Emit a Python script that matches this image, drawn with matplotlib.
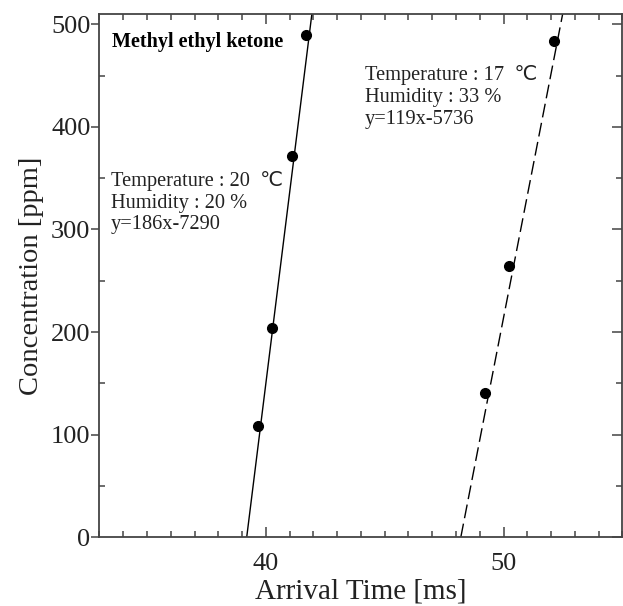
import matplotlib
matplotlib.use("Agg")
import matplotlib.pyplot as plt
from matplotlib.ticker import MultipleLocator

plt.rcParams['font.family'] = ['Liberation Serif', 'DejaVu Sans']

time_20 = [39.65, 40.24, 41.12, 41.68]
conc_20 = [108.7, 203.6, 371.7, 489.7]
time_17 = [49.24, 50.24, 52.12]
conc_17 = [140.9, 264.6, 483.8]

# fitted lines as printed on the chart: y = a*x + b
fit_20 = (186, -7290)
fit_17 = (119, -5736)

label_20 = "Temperature : 20  \u2103\nHumidity : 20 %\ny=186x-7290"
label_17 = "Temperature : 17  \u2103\nHumidity : 33 %\ny=119x-5736"

fig = plt.figure(figsize=(6.23, 6.06), dpi=100)
ax = fig.add_axes([0.1597, 0.1134, 0.8393, 0.8635])

# draw each fit line from y=0 up past the top (clipped by the axes)
for (a, b), ls in [(fit_20, '-'), (fit_17, (0, (10, 4)))]:
    ys = [0, 520]
    xs = [(y - b) / a for y in ys]
    ax.plot(xs, ys, color='black', lw=1.0, ls=ls)

ax.plot(time_20, conc_20, 'o', color='black', ms=7)
ax.plot(time_17, conc_17, 'o', color='black', ms=7)

ax.set_xlim(33, 55)
ax.set_ylim(0, 510)
ax.xaxis.set_major_locator(MultipleLocator(10))
ax.xaxis.set_minor_locator(MultipleLocator(1))
ax.yaxis.set_major_locator(MultipleLocator(100))
ax.yaxis.set_minor_locator(MultipleLocator(50))

for s in ax.spines.values():
    s.set_linewidth(1.3)
    s.set_color('#444444')

ax.tick_params(axis='x', which='both', direction='in', top=True, bottom=True,
               color='#444444', width=1.1)
ax.tick_params(axis='x', which='major', length=7, labelsize=19, pad=11,
               labelcolor='#222222')
ax.tick_params(axis='x', which='minor', length=4)
ax.tick_params(axis='y', which='major', direction='out', length=6,
               color='#444444', width=1.1, labelsize=19, pad=0.5,
               labelcolor='#222222')
ax.tick_params(axis='y', which='minor', direction='in', length=4,
               color='#444444', width=1.1)

# right side ticks all point inward
ry = ax.secondary_yaxis('right')
ry.yaxis.set_major_locator(MultipleLocator(100))
ry.yaxis.set_minor_locator(MultipleLocator(50))
ry.tick_params(which='both', direction='in', labelright=False,
               color='#444444', width=1.1)
ry.tick_params(which='major', length=7)
ry.tick_params(which='minor', length=4)
ry.spines['right'].set_visible(False)

ax.set_xlabel("Arrival Time [ms]", fontsize=21, color='#222222', labelpad=3)
ax.set_ylabel("Concentration [ppm]", fontsize=20.5, color='#222222', labelpad=5)

ax.text(33.53, 483, "Methyl ethyl ketone", fontsize=14.5, fontweight='bold',
        va='center', ha='left', color='black')
ax.text(33.48, 326, label_20, fontsize=14.7, va='center', ha='left',
        linespacing=1.19, color='#222222')
ax.text(44.17, 429, label_17, fontsize=14.7, va='center', ha='left',
        linespacing=1.19, color='#222222')

plt.savefig("out.png", dpi=100)
